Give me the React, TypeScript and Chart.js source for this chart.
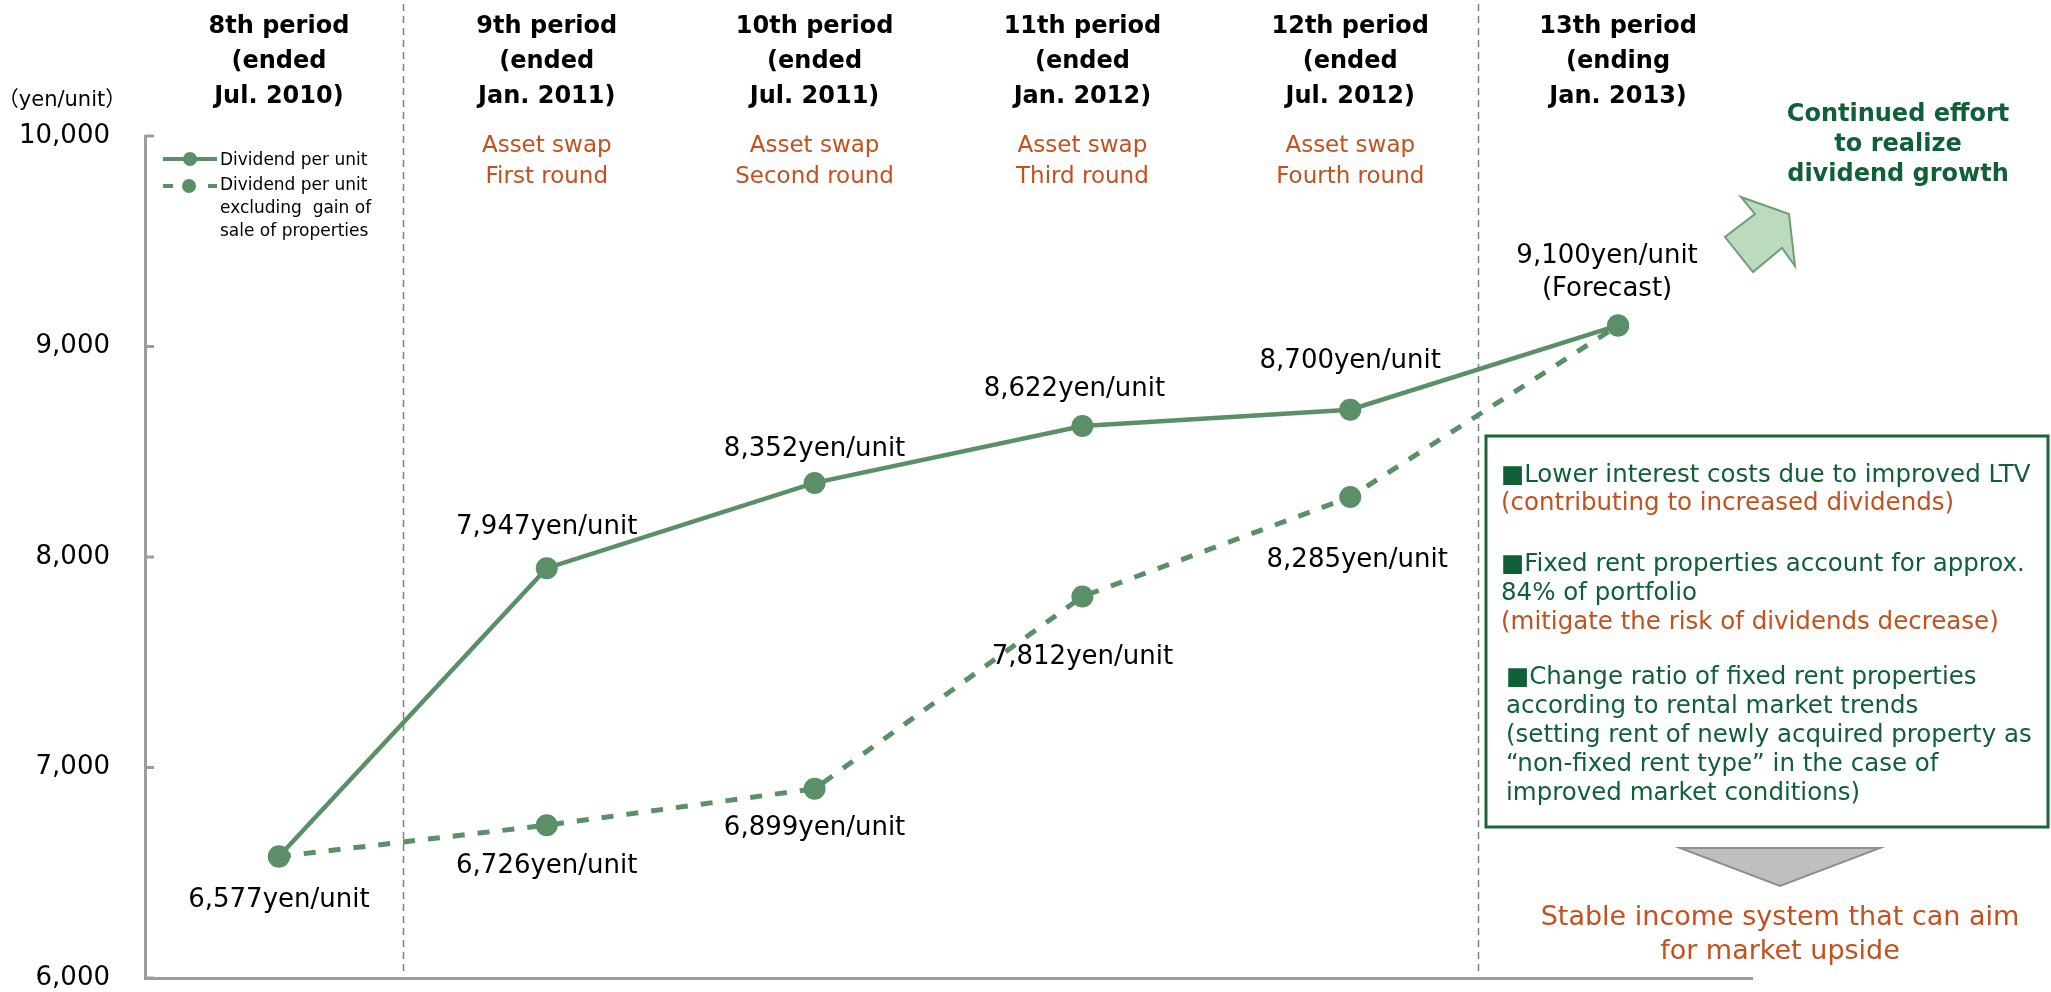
import React, { useEffect, useRef } from "react";
import { Chart, registerables } from "chart.js";

Chart.register(...registerables);

// ---- data ----
const periods = ["8th", "9th", "10th", "11th", "12th", "13th"];
const periodHeaders = [
  ["8th period", "(ended", "Jul. 2010)"],
  ["9th period", "(ended", "Jan. 2011)"],
  ["10th period", "(ended", "Jul. 2011)"],
  ["11th period", "(ended", "Jan. 2012)"],
  ["12th period", "(ended", "Jul. 2012)"],
  ["13th period", "(ending", "Jan. 2013)"],
];
const assetSwaps: (string[] | null)[] = [
  null,
  ["Asset swap", "First round"],
  ["Asset swap", "Second round"],
  ["Asset swap", "Third round"],
  ["Asset swap", "Fourth round"],
  null,
];
const dividendPerUnit = [6577, 7947, 8352, 8622, 8700, 9100];
const dividendExGain = [6577, 6726, 6899, 7812, 8285, 9100];
const yTickValues = [6000, 7000, 8000, 9000, 10000];
const seriesNames = [
  ["Dividend per unit"],
  ["Dividend per unit", "excluding  gain of", "sale of properties"],
];
const forecastIndex = 5;
// periods after which a divider is drawn, with a small nudge in px
const dividerAfter = [0, 4];
const dividerNudge = [-10, -6];

const notes: { text: string; tone: "green" | "orange"; indent: number }[] = [
  { text: "\u25A0Lower interest costs due to improved LTV", tone: "green", indent: 0 },
  { text: "(contributing to increased dividends)", tone: "orange", indent: 0 },
  { text: "\u25A0Fixed rent properties account for approx.", tone: "green", indent: 0 },
  { text: "84% of portfolio", tone: "green", indent: 0 },
  { text: "(mitigate the risk of dividends decrease)", tone: "orange", indent: 0 },
  { text: "\u25A0Change ratio of fixed rent properties", tone: "green", indent: 5 },
  { text: "according to rental market trends", tone: "green", indent: 5 },
  { text: "(setting rent of newly acquired property as", tone: "green", indent: 5 },
  { text: "\u201Cnon-fixed rent type\u201D in the case of", tone: "green", indent: 5 },
  { text: "improved market conditions)", tone: "green", indent: 5 },
];
const noteLineY = [476, 504, 565, 594, 623, 678, 707, 736, 765, 794];
const growthText = ["Continued effort", "to realize", "dividend growth"];
const outcomeText = ["Stable income system that can aim", "for market upside"];

// ---- styling / placement ----
const FONT = "'DejaVu Sans', Verdana, 'Noto Sans CJK JP', sans-serif";
const GREEN = "#5B8F68";
const DARK_GREEN = "#0F5F37";
const ORANGE = "#C4501E";
const AXIS = "#9C9C9C";

// label offsets relative to each point (px)
const solidLabelOffsets: ([number, number] | null)[] = [
  null, [0, -41], [0, -34], [-8, -37], [0, -48], [-11, -69],
];
const dashedLabelOffsets: ([number, number] | null)[] = [
  [0, 44], [0, 41], [0, 39], [0, 61], [7, 63], null,
];

const fmt = (v: number) => v.toLocaleString("en-US");

const decorPlugin = {
  id: "decor",
  beforeDatasetsDraw(chart: any) {
    const { ctx, chartArea, scales } = chart;
    const x = scales.x;
    ctx.save();
    ctx.strokeStyle = "#808080";
    ctx.lineWidth = 1.5;
    ctx.setLineDash([7, 5]);
    dividerAfter.forEach((i, k) => {
      const mid = (x.getPixelForValue(i) + x.getPixelForValue(i + 1)) / 2;
      const px = Math.round(mid + dividerNudge[k]) + 0.5;
      ctx.beginPath();
      ctx.moveTo(px, 4);
      ctx.lineTo(px, chartArea.bottom - 2);
      ctx.stroke();
    });
    ctx.restore();
  },
  afterDraw(chart: any) {
    const { ctx, chartArea, scales } = chart;
    const x = scales.x;
    const y = scales.y;
    ctx.save();
    ctx.textAlign = "center";
    ctx.textBaseline = "middle";

    // inward tick marks on the value axis
    ctx.strokeStyle = AXIS;
    ctx.lineWidth = 3;
    for (const v of yTickValues) {
      const py = y.getPixelForValue(v);
      ctx.beginPath();
      ctx.moveTo(chartArea.left, py);
      ctx.lineTo(chartArea.left + 9, py);
      ctx.stroke();
    }

    // unit label
    ctx.fillStyle = "#000";
    ctx.font = `21px ${FONT}`;
    ctx.fillText("\uFF08yen/unit\uFF09", 62, 101);

    // period headers
    periodHeaders.forEach((lines, i) => {
      const cx = x.getPixelForValue(i);
      ctx.fillStyle = "#000";
      ctx.font = `bold 24px ${FONT}`;
      lines.forEach((t, k) => ctx.fillText(t, cx, 27 + k * 35));
      const swap = assetSwaps[i];
      if (swap) {
        ctx.fillStyle = ORANGE;
        ctx.font = `23px ${FONT}`;
        swap.forEach((t, k) => ctx.fillText(t, cx, 146 + k * 31));
      }
    });

    // legend
    const lx0 = 163, lx1 = 217, lmid = 190;
    ctx.strokeStyle = GREEN;
    ctx.fillStyle = GREEN;
    ctx.lineWidth = 4;
    ctx.beginPath();
    ctx.moveTo(lx0, 159);
    ctx.lineTo(lx1, 159);
    ctx.stroke();
    ctx.beginPath();
    ctx.arc(lmid, 159, 7, 0, Math.PI * 2);
    ctx.fill();
    ctx.beginPath();
    ctx.moveTo(lx0, 186);
    ctx.lineTo(lx0 + 10, 186);
    ctx.moveTo(lx1 - 9, 186);
    ctx.lineTo(lx1, 186);
    ctx.stroke();
    ctx.beginPath();
    ctx.arc(lmid - 1, 186, 7, 0, Math.PI * 2);
    ctx.fill();
    ctx.fillStyle = "#000";
    ctx.font = `17px ${FONT}`;
    ctx.textAlign = "left";
    const legendRows = [161, 186, 209, 232];
    const legendLines = [...seriesNames[0], ...seriesNames[1]];
    legendLines.forEach((t, k) => ctx.fillText(t, 220, legendRows[k]));

    // value labels
    ctx.textAlign = "center";
    ctx.fillStyle = "#000";
    ctx.font = `26px ${FONT}`;
    const metaSolid = chart.getDatasetMeta(0);
    const metaDashed = chart.getDatasetMeta(1);
    dividendPerUnit.forEach((v, i) => {
      const off = solidLabelOffsets[i];
      if (!off) return;
      const p = metaSolid.data[i];
      ctx.fillText(`${fmt(v)}yen/unit`, p.x + off[0], p.y + off[1]);
      if (i === forecastIndex) ctx.fillText("(Forecast)", p.x + off[0], p.y + off[1] + 33);
    });
    dividendExGain.forEach((v, i) => {
      const off = dashedLabelOffsets[i];
      if (!off) return;
      const p = metaDashed.data[i];
      ctx.fillText(`${fmt(v)}yen/unit`, p.x + off[0], p.y + off[1]);
    });

    // growth message and arrow
    ctx.fillStyle = DARK_GREEN;
    ctx.font = `bold 24px ${FONT}`;
    growthText.forEach((t, k) => ctx.fillText(t, 1898, 115 + k * 30));
    const arrow = [
      [1741, 197], [1789, 214], [1795, 266], [1782, 248],
      [1753, 272], [1725, 237], [1755, 214],
    ];
    ctx.beginPath();
    arrow.forEach(([ax, ay], k) => (k ? ctx.lineTo(ax, ay) : ctx.moveTo(ax, ay)));
    ctx.closePath();
    ctx.fillStyle = "#BCDABD";
    ctx.fill();
    ctx.strokeStyle = "#6E9E75";
    ctx.lineWidth = 2;
    ctx.stroke();

    // notes box
    ctx.strokeStyle = "#1C6538";
    ctx.lineWidth = 3;
    ctx.strokeRect(1486, 436, 562, 391);
    ctx.textAlign = "left";
    ctx.font = `24.5px ${FONT}`;
    notes.forEach((n, k) => {
      ctx.fillStyle = n.tone === "green" ? DARK_GREEN : ORANGE;
      ctx.fillText(n.text, 1501 + n.indent, noteLineY[k]);
    });

    // downward arrow and outcome
    ctx.beginPath();
    ctx.moveTo(1680, 848);
    ctx.lineTo(1880, 848);
    ctx.lineTo(1780, 886);
    ctx.closePath();
    ctx.fillStyle = "#BFBFBF";
    ctx.fill();
    ctx.strokeStyle = "#8E8E8E";
    ctx.lineWidth = 2;
    ctx.stroke();
    ctx.textAlign = "center";
    ctx.fillStyle = ORANGE;
    ctx.font = `27px ${FONT}`;
    outcomeText.forEach((t, k) => ctx.fillText(t, 1780, 918 + k * 34));

    ctx.restore();
  },
};

export default function App() {
  const ref = useRef<HTMLCanvasElement | null>(null);

  useEffect(() => {
    if (!ref.current) return;
    const chart = new Chart(ref.current, {
      type: "line",
      data: {
        labels: periods,
        datasets: [
          {
            label: seriesNames[0].join(" "),
            data: dividendPerUnit,
            borderColor: GREEN,
            backgroundColor: GREEN,
            borderWidth: 4.5,
            pointRadius: 11,
            pointHoverRadius: 11,
            pointBorderWidth: 0,
            pointBackgroundColor: GREEN,
            tension: 0,
          },
          {
            label: seriesNames[1].join(" "),
            data: dividendExGain,
            borderColor: GREEN,
            backgroundColor: GREEN,
            borderWidth: 5,
            borderDash: [12, 13],
            pointRadius: 11,
            pointHoverRadius: 11,
            pointBorderWidth: 0,
            pointBackgroundColor: GREEN,
            tension: 0,
          },
        ],
      },
      options: {
        responsive: false,
        devicePixelRatio: 1,
        animation: false,
        events: [],
        layout: { padding: { left: 0, top: 136, right: 299, bottom: 14 } },
        plugins: { legend: { display: false }, tooltip: { enabled: false } },
        scales: {
          x: {
            type: "category",
            offset: true,
            grid: { display: false, drawTicks: false },
            border: { display: true, color: AXIS, width: 3 },
            ticks: { display: false },
            afterFit: (s: any) => {
              s.height = 0;
            },
          },
          y: {
            min: 6000,
            max: 10000,
            grid: { display: false, drawTicks: true, tickLength: 35 },
            border: { display: true, color: AXIS, width: 3 },
            afterBuildTicks: (s: any) => {
              s.ticks = yTickValues.map((v) => ({ value: v }));
            },
            ticks: {
              padding: 0,
              color: "#000",
              font: { family: FONT, size: 26 },
              callback: (v: any) => fmt(Number(v)),
            },
            afterFit: (s: any) => {
              s.width = 145;
              s.paddingTop = 0;
              s.paddingBottom = 0;
            },
          },
        },
      },
      plugins: [decorPlugin],
    });
    return () => chart.destroy();
  }, []);

  return (
    <div
      style={{
        position: "fixed",
        left: 0,
        top: 0,
        width: "2051px",
        height: "992px",
        background: "#fff",
      }}
    >
      <canvas ref={ref} width={2051} height={992} style={{ display: "block" }} />
    </div>
  );
}
